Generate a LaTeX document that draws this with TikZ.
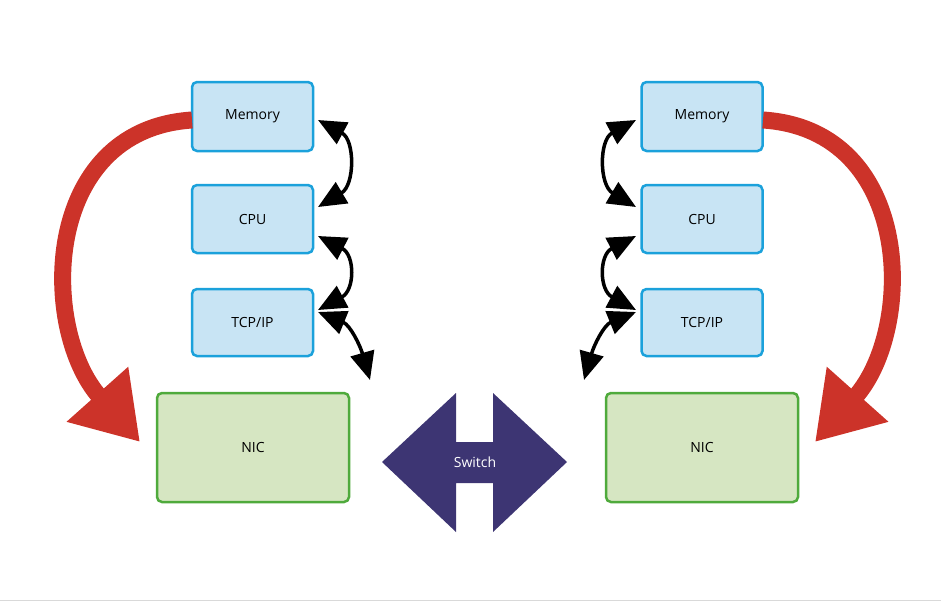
\documentclass[tikz,border=0pt]{standalone}
\usepackage{fontspec}
\setmainfont{Open Sans}
\usetikzlibrary{arrows.meta}
\definecolor{bfill}{HTML}{C8E4F4}
\definecolor{bline}{HTML}{1BA1DB}
\definecolor{gfill}{HTML}{D6E6C2}
\definecolor{gline}{HTML}{4FAA3C}
\definecolor{redc}{HTML}{CC3329}
\definecolor{sw}{HTML}{3D3573}
\begin{document}
\begin{tikzpicture}[x=1pt,y=-1pt,
  blue box/.style={draw=bline,line width=2.5pt,fill=bfill,rounded corners=5pt,font=\fontsize{14}{16}\selectfont},
  green box/.style={draw=gline,line width=2.5pt,fill=gfill,rounded corners=5pt,font=\fontsize{14}{16}\selectfont},
  dbl/.style={line width=3.5pt,{Triangle[length=28pt,width=24pt]}-{Triangle[length=28pt,width=24pt]}},
  red/.style={line width=17pt,redc,-{Triangle[length=64pt,width=78pt]}}]
\useasboundingbox (0,0) rectangle (941,602);
\draw[gray!30,line width=0.8pt] (0,600) -- (941,600);
\foreach \s/\cx in {L/252.5,R/702} {
  \node[blue box,minimum width=121pt,minimum height=69pt] (mem\s) at (\cx,116.5) {Memory};
  \node[blue box,minimum width=121pt,minimum height=68pt] (cpu\s) at (\cx,219) {CPU};
  \node[blue box,minimum width=121pt,minimum height=67pt] (tcp\s) at (\cx,322.5) {TCP/IP};
}
\node[green box,minimum width=192pt,minimum height=109pt] (nicL) at (253,447.5) {NIC};
\node[green box,minimum width=192pt,minimum height=109pt] (nicR) at (702,447.5) {NIC};
% switch
\fill[sw] (382,462) -- (456,393) -- (456,442) -- (493,442) -- (493,393) -- (567,462)
  -- (493,532) -- (493,483) -- (456,483) -- (456,532) -- cycle;
\node[white,font=\fontsize{14}{16}\selectfont] (sw) at (475,462) {Switch};
% black arrows left
\draw[dbl] (318,120) .. controls (355,140) and (355,185) .. (318,207);
\draw[dbl] (318,236) .. controls (355,255) and (355,290) .. (318,310);
\draw[dbl] (318,312) .. controls (350,325) and (360,345) .. (370,380);
% black arrows right
\draw[dbl] (636,120) .. controls (599,140) and (599,185) .. (636,207);
\draw[dbl] (636,236) .. controls (599,255) and (599,290) .. (636,310);
\draw[dbl] (636,312) .. controls (604,325) and (594,345) .. (584,380);
% red arrows
\draw[red] (192,120) .. controls (40,130) and (40,330) .. (140,442);
\draw[red] (763,120) .. controls (915,130) and (915,330) .. (815,442);
\end{tikzpicture}
\end{document}
